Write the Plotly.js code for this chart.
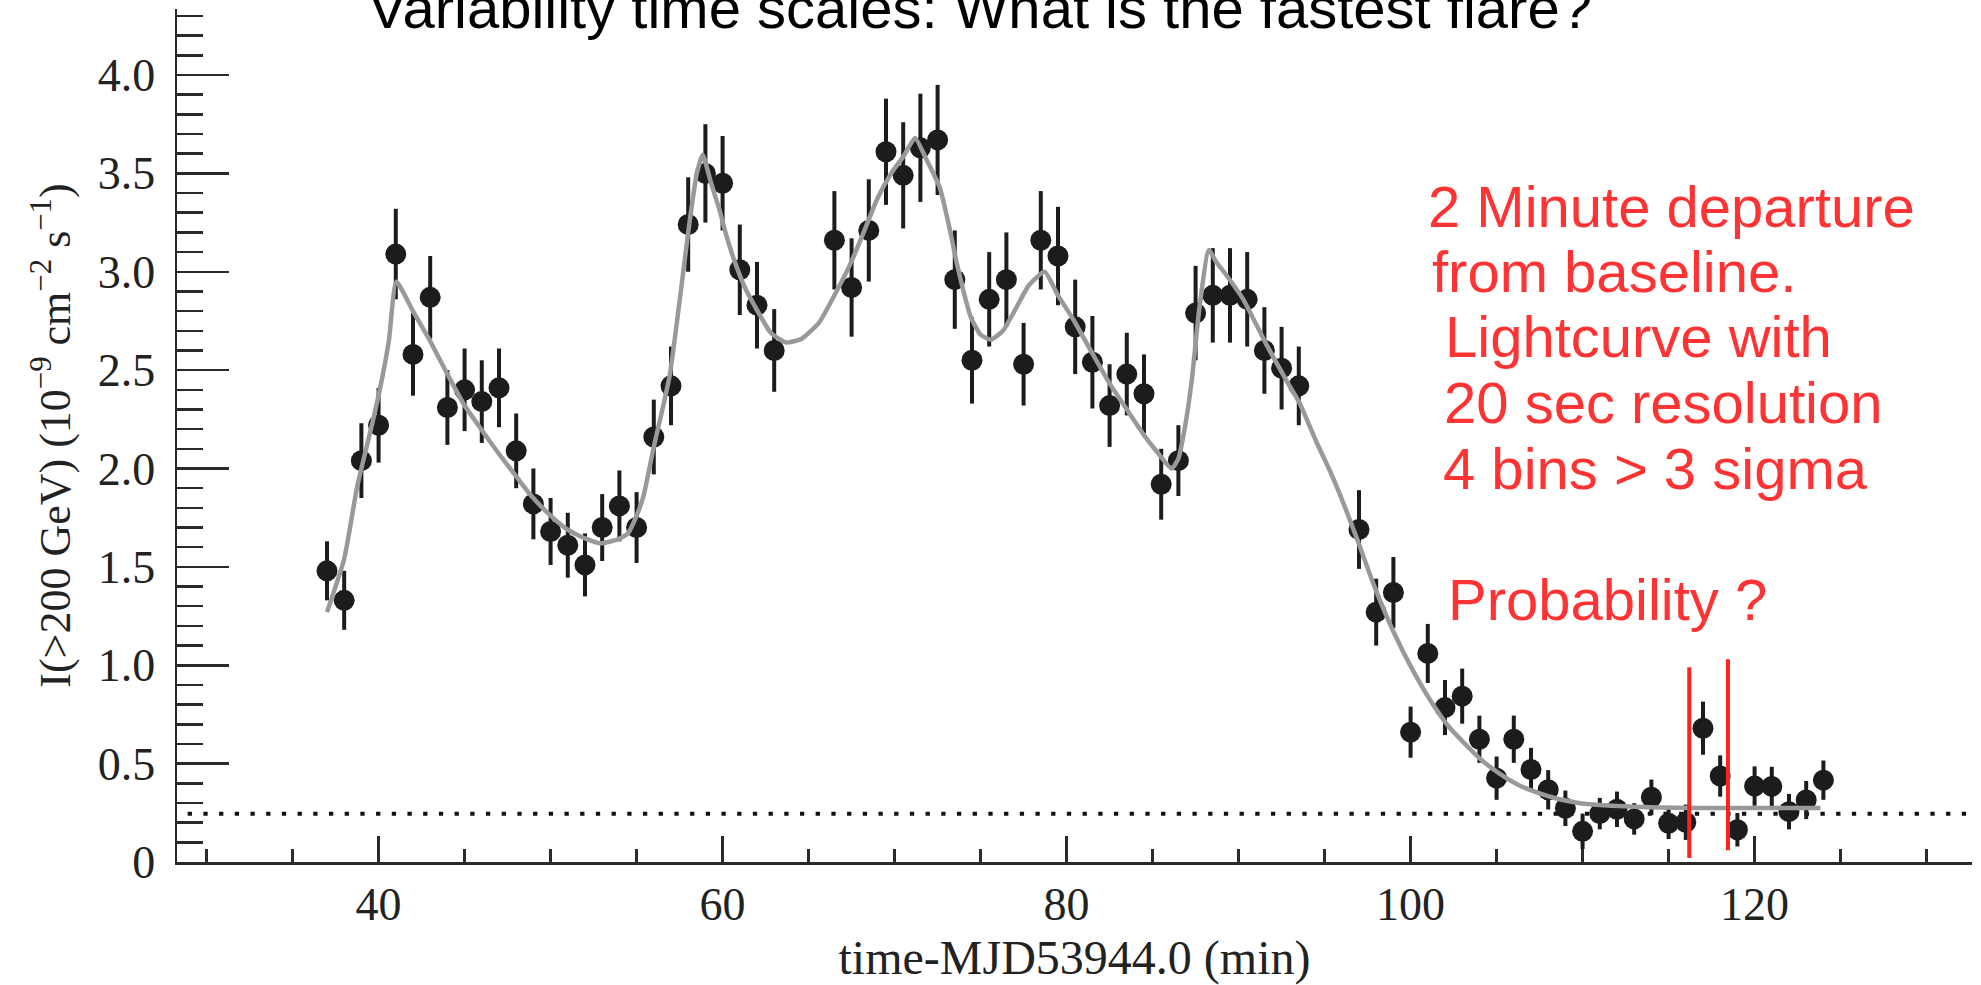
<!DOCTYPE html>
<html>
<head>
<meta charset="utf-8">
<script src="https://cdn.plot.ly/plotly-3.0.1.min.js"></script>
<style>
html,body{margin:0;padding:0;background:#fff;}
#chart{width:1981px;height:985px;}
</style>
</head>
<body>
<div id="chart"></div>
<script>
// ---- Light-curve data (minutes after MJD 53944.0, flux in 1e-9 cm^-2 s^-1) ----
const timeMin = [
  37,38,39,40,41,42,43,44,45,46,47,48,49,50,51,52,53,54,55,56,57,58,59,60,61,62,63,
  66.5,67.5,68.5,69.5,70.5,71.5,72.5,73.5,74.5,75.5,76.5,77.5,78.5,79.5,80.5,81.5,82.5,83.5,84.5,85.5,86.5,87.5,88.5,89.5,90.5,91.5,92.5,93.5,
  97,98,99,100,101,102,103,104,105,106,107,108,109,110,111,112,113,114,115,116,117,118,119,120,121,122,123,124
];
const flux = [
  1.48,1.33,2.04,2.22,3.09,2.58,2.87,2.31,2.40,2.34,2.41,2.09,1.82,1.68,1.61,1.51,1.70,1.81,1.70,2.16,2.42,3.24,3.50,3.45,3.01,2.83,2.60,
  3.16,2.92,3.21,3.61,3.49,3.63,3.67,2.96,2.55,2.86,2.96,2.53,3.16,3.08,2.72,2.54,2.32,2.48,2.38,1.92,2.04,2.79,2.88,2.88,2.86,2.60,2.51,2.42,
  1.69,1.27,1.37,0.66,1.06,0.785,0.843,0.624,0.426,0.624,0.47,0.367,0.273,0.156,0.246,0.268,0.219,0.329,0.197,0.202,0.68,0.437,0.164,0.386,0.384,0.256,0.315,0.416
];
const fluxErr = [
  0.15,0.15,0.19,0.19,0.23,0.21,0.21,0.19,0.21,0.21,0.20,0.19,0.18,0.17,0.165,0.16,0.17,0.18,0.18,0.19,0.20,0.24,0.25,0.24,0.23,0.22,0.21,
  0.25,0.25,0.26,0.27,0.27,0.275,0.28,0.25,0.22,0.24,0.24,0.21,0.25,0.25,0.24,0.235,0.21,0.21,0.20,0.18,0.18,0.24,0.24,0.24,0.24,0.22,0.21,0.20,
  0.20,0.17,0.18,0.13,0.15,0.14,0.14,0.12,0.11,0.12,0.11,0.10,0.09,0.09,0.08,0.09,0.08,0.09,0.08,0.09,0.135,0.105,0.085,0.10,0.10,0.09,0.097,0.10
];

// ---- Fitted model curve ----
const fitX = [37.0,38.0,38.76,39.5,40.07,40.6,41.03,42.0,42.92,44.0,45.0,46.0,46.95,48.0,48.89,50.0,50.97,52.0,52.91,53.9,54.5,55.0,55.4,56.0,56.5,56.94,57.5,58.0,58.5,58.85,59.3,59.8,60.2,60.67,61.3,61.97,62.8,63.7,64.6,65.6,66.5,67.43,68.2,68.99,69.8,70.54,71.19,71.8,72.62,73.2,73.65,74.43,75.0,75.6,76.3,77.03,77.8,78.72,79.5,80.4,81.43,82.48,83.5,84.5,85.3,86.1,86.5,86.9,87.28,87.7,88.27,88.7,89.23,90.27,91.56,92.86,93.56,94.5,95.3,96.2,96.98,97.9,99.06,100.22,101.38,102.2,103.11,104.1,105.15,106.3,107.46,108.6,109.78,111.0,112.39,114.5,116.73,120.0,123.83];
const fitY = [1.27,1.54,1.91,2.18,2.40,2.65,2.95,2.80,2.66,2.48,2.32,2.195,2.08,1.96,1.86,1.76,1.69,1.645,1.62,1.64,1.67,1.76,1.86,2.11,2.30,2.48,2.85,3.20,3.50,3.595,3.46,3.32,3.19,3.06,2.92,2.81,2.69,2.64,2.66,2.74,2.88,3.04,3.20,3.37,3.50,3.59,3.68,3.58,3.43,3.22,3.03,2.77,2.68,2.655,2.70,2.81,2.93,3.00,2.88,2.756,2.595,2.435,2.30,2.17,2.08,2.00,2.05,2.22,2.45,2.80,3.11,3.05,2.99,2.86,2.64,2.435,2.33,2.14,1.99,1.80,1.62,1.40,1.16,0.96,0.79,0.69,0.605,0.52,0.45,0.39,0.35,0.32,0.30,0.29,0.283,0.277,0.274,0.274,0.274];

// ---- Baseline level and the marked 2-minute window ----
const baselineLevel = 0.245;
const baselineSpan = [28.9, 132.4];
const markLineX = [116.2, 118.45];
const markLineLow = [0.02, 0.06];
const markLineHigh = [0.99, 1.03];

// ---- Axis tick labels ----
const yTickVals = [0,0.5,1.0,1.5,2.0,2.5,3.0,3.5,4.0];
const yTickText = ['0','0.5','1.0','1.5','2.0','2.5','3.0','3.5','4.0'];
const xTickVals = [40,60,80,100,120];
const xTickText = ['40','60','80','100','120'];

// ---- Annotation text ----
const noteLines = ['2 Minute departure','from baseline.','Lightcurve with','20 sec resolution','4 bins > 3 sigma','Probability ?'];
const noteX = [100.92,101.12,101.88,101.8,101.74,102.03];
const noteY = [3.331,3.000,2.670,2.334,2.001,1.335];

const axisColor = '#2a2a2a';
const dark = '#1c1c1c';
const red = '#ff3333';

const traces = [];
traces.push({
  x: baselineSpan, y: [baselineLevel, baselineLevel],
  mode: 'lines', type: 'scatter', hoverinfo: 'skip',
  line: {color: '#111', width: 4, dash: '4.3px,11.4px'}
});
traces.push({
  x: timeMin, y: flux, type: 'scatter', mode: 'markers',
  marker: {color: dark, size: 21, line: {width: 0}},
  error_y: {type: 'data', array: fluxErr, visible: true, thickness: 4, width: 0, color: dark}
});
traces.push({
  x: fitX, y: fitY, type: 'scatter', mode: 'lines',
  line: {color: '#999999', width: 4.5, shape: 'spline', smoothing: 0.5}
});
markLineX.forEach(function(v, i){
  traces.push({
    x: [v, v], y: [markLineLow[i], markLineHigh[i]], type: 'scatter', mode: 'lines',
    line: {color: '#ff2222', width: 4}
  });
});

const annotations = noteLines.map(function(t, i){
  return {
    text: t, x: noteX[i], y: noteY[i], xref: 'x', yref: 'y',
    xanchor: 'left', yanchor: 'middle', showarrow: false,
    font: {family: 'Liberation Sans, Arial, sans-serif', size: 58, color: red}
  };
});

const layout = {
  width: 1981, height: 985,
  paper_bgcolor: '#fff', plot_bgcolor: '#fff',
  showlegend: false,
  margin: {l: 177, r: 9, t: 9, b: 123},
  title: {
    text: 'Variability time scales: What is the fastest flare?',
    font: {family: 'Liberation Sans, Arial, sans-serif', size: 58, color: '#000'},
    xref: 'container', yref: 'container', x: 0.4947, xanchor: 'center',
    y: 0.9716, yanchor: 'bottom'
  },
  xaxis: {
    range: [28.28, 132.64],
    tickmode: 'array', tickvals: xTickVals, ticktext: xTickText,
    ticks: 'inside', ticklen: 26, tickwidth: 2.5, tickcolor: axisColor,
    minor: {tickmode: 'linear', tick0: 0, dtick: 5, ticks: 'inside', ticklen: 13, tickwidth: 2.5, tickcolor: axisColor, showgrid: false},
    showline: true, linewidth: 2.5, linecolor: axisColor,
    showgrid: false, zeroline: false,
    tickfont: {family: 'Liberation Serif, Times New Roman, serif', size: 46, color: '#222'},
    ticklabelstandoff: 0,
    title: {text: 'time-MJD53944.0 (min)', standoff: 26,
      font: {family: 'Liberation Serif, Times New Roman, serif', size: 48, color: '#222'}}
  },
  yaxis: {
    range: [0, 4.3355],
    tickmode: 'array', tickvals: yTickVals, ticktext: yTickText,
    ticks: 'inside', ticklen: 52, tickwidth: 2.5, tickcolor: axisColor,
    minor: {tickmode: 'linear', tick0: 0, dtick: 0.1, ticks: 'inside', ticklen: 26, tickwidth: 2.5, tickcolor: axisColor, showgrid: false},
    showline: true, linewidth: 2.5, linecolor: axisColor,
    showgrid: false, zeroline: false,
    tickfont: {family: 'Liberation Serif, Times New Roman, serif', size: 46, color: '#222'},
    ticklabelstandoff: 10,
    title: {text: 'I(>200 GeV) (10<sup>−9</sup> cm<sup>−2</sup> s<sup>−1</sup>)', standoff: 14,
      font: {family: 'Liberation Serif, Times New Roman, serif', size: 44, color: '#222'}}
  },
  annotations: annotations
};

Plotly.newPlot('chart', traces, layout, {displayModeBar: false, staticPlot: true});
</script>
</body>
</html>
